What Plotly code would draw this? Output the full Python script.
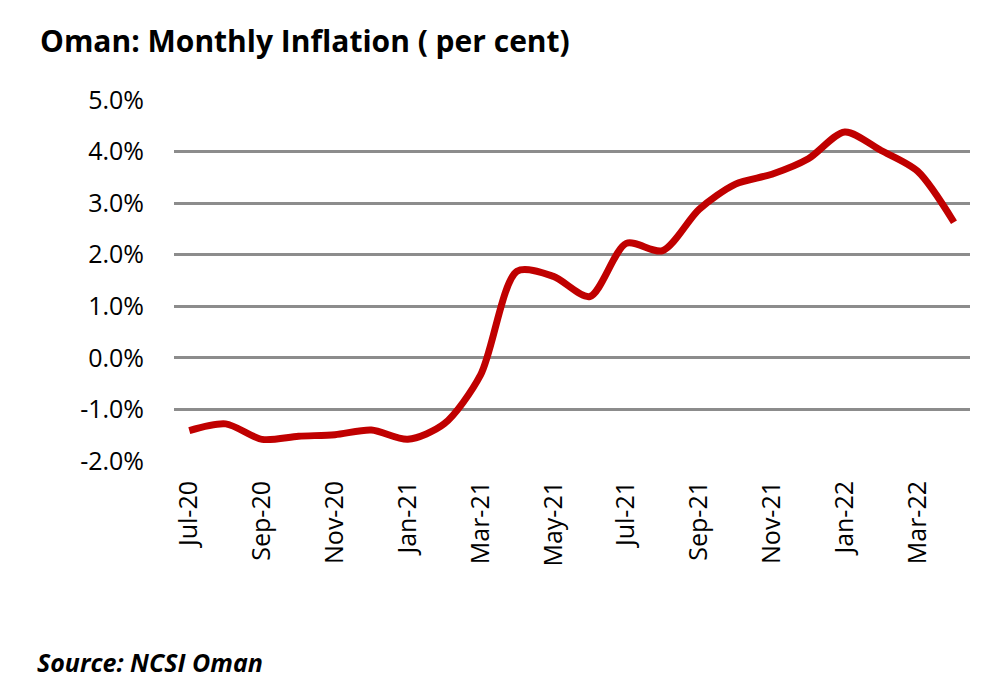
import plotly.graph_objects as go

months = ["Jul-20", "Aug-20", "Sep-20", "Oct-20", "Nov-20", "Dec-20",
          "Jan-21", "Feb-21", "Mar-21", "Apr-21", "May-21", "Jun-21",
          "Jul-21", "Aug-21", "Sep-21", "Oct-21", "Nov-21", "Dec-21",
          "Jan-22", "Feb-22", "Mar-22", "Apr-22"]
inflation = [-1.41, -1.28, -1.58, -1.52, -1.49, -1.40,
             -1.58, -1.28, -0.33, 1.68, 1.58, 1.19,
             2.22, 2.08, 2.88, 3.37, 3.56, 3.86,
             4.38, 4.02, 3.62, 2.63]
tick_labels = months[::2]
y_ticks = [-2, -1, 0, 1, 2, 3, 4, 5]
y_tick_text = ["-2.0%", "-1.0%", "0.0%", "1.0%", "2.0%", "3.0%", "4.0%", "5.0%"]

font_family = "'Open Sans', 'Noto Sans', sans-serif"

fig = go.Figure()
fig.add_trace(go.Scatter(
    x=list(range(len(months))), y=inflation, mode="lines",
    line=dict(color="#C00000", width=7, shape="spline", smoothing=0.8),
    hoverinfo="skip", showlegend=False))

fig.update_layout(
    width=1000, height=692,
    margin=dict(l=174, r=30, t=100, b=231),
    paper_bgcolor="white", plot_bgcolor="white",
    font=dict(family=font_family, color="#000000", size=25),
    title=dict(text="<b>Oman: Monthly Inflation ( per cent)</b>",
               x=0.040, xanchor="left", y=0.94, yanchor="middle",
               font=dict(size=30, family=font_family, color="#000")),
    xaxis=dict(
        range=[-0.42, 21.44],
        tickmode="array",
        tickvals=list(range(0, len(months), 2)),
        ticktext=tick_labels,
        tickangle=-90,
        showgrid=False, zeroline=False, showline=False,
        ticks="", tickfont=dict(size=25),
        ticklabelstandoff=14,
    ),
    yaxis=dict(
        range=[-2, 5],
        tickmode="array", tickvals=y_ticks, ticktext=y_tick_text,
        showgrid=True, gridcolor="#8c8c8c", gridwidth=3,
        zeroline=False, showline=False, ticks="",
        tickfont=dict(size=25),
        ticklabelstandoff=29,
    ),
    annotations=[dict(
        text="<b><i>Source: NCSI Oman</i></b>", xref="paper", yref="paper",
        x=0, y=0, showarrow=False, xanchor="left", yanchor="middle",
        font=dict(size=25, family=font_family, color="#000"),
        xshift=-139, yshift=-201,
    )],
)

fig.write_html("out.html")
